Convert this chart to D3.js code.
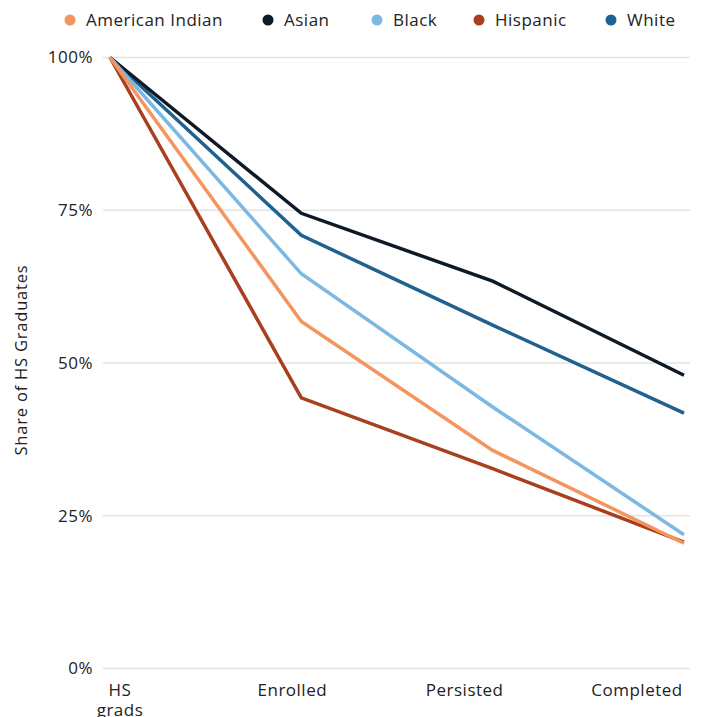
<!DOCTYPE html>
<html>
<head>
<meta charset="utf-8">
<script src="https://cdn.jsdelivr.net/npm/d3@7"></script>
<style>
  html, body { margin: 0; padding: 0; background: #fff; }
  svg { display: block; font-family: "Open Sans", "Noto Sans", sans-serif; }
</style>
</head>
<body>
<svg id="chart" width="701" height="717"></svg>
<script>
// Stages of the college pipeline
const stages = ["HS grads", "Enrolled", "Persisted", "Completed"];

// Share of high-school graduates reaching each stage (%)
const americanIndian = [100, 56.8, 35.7, 20.5];
const asian          = [100, 74.5, 63.4, 48.0];
const black          = [100, 64.6, 42.8, 21.9];
const hispanic       = [100, 44.3, 32.7, 20.7];
const white          = [100, 70.9, 56.2, 41.8];

const groups = ["American Indian", "Asian", "Black", "Hispanic", "White"];
const groupColors = ["#f4955d", "#0e1a28", "#7db8e2", "#a8401f", "#1f6190"];

const yTicks = [0, 25, 50, 75, 100];

const seriesByGroup = {
  "American Indian": americanIndian,
  "Asian": asian,
  "Black": black,
  "Hispanic": hispanic,
  "White": white
};

const svg = d3.select("#chart");
const color = d3.scaleOrdinal().domain(groups).range(groupColors);

const x = d3.scalePoint().domain(stages).range([110, 684]);
const xLabel = d3.scalePoint().domain(stages).range([120, 637]);
const y = d3.scaleLinear().domain([0, 100]).range([668.5, 57.5]);

// Gridlines
svg.append("g")
  .selectAll("line")
  .data(yTicks)
  .join("line")
  .attr("x1", 103)
  .attr("x2", 690)
  .attr("y1", d => y(d))
  .attr("y2", d => y(d))
  .attr("stroke", "#e3e3e3")
  .attr("stroke-width", 1.5);

// Y tick labels
svg.append("g")
  .selectAll("text")
  .data(yTicks)
  .join("text")
  .attr("x", 93)
  .attr("y", d => y(d))
  .attr("dy", "0.35em")
  .attr("text-anchor", "end")
  .attr("font-size", 17)
  .attr("letter-spacing", 0.5)
  .attr("fill", "#222")
  .text(d => d + "%");

// Y axis title
svg.append("text")
  .attr("transform", `translate(27, ${y(50) - 3}) rotate(-90)`)
  .attr("text-anchor", "middle")
  .attr("font-size", 16.5)
  .attr("letter-spacing", 0.8)
  .attr("fill", "#222")
  .text("Share of HS Graduates");

// X tick labels (wrapped onto lines)
const xl = svg.append("g")
  .selectAll("text")
  .data(stages)
  .join("text")
  .attr("x", d => xLabel(d))
  .attr("y", 696)
  .attr("text-anchor", "middle")
  .attr("font-size", 17)
  .attr("letter-spacing", 0.5)
  .attr("fill", "#222");
xl.each(function(d) {
  const words = d === "HS grads" ? ["HS", "grads"] : [d];
  d3.select(this).selectAll("tspan")
    .data(words)
    .join("tspan")
    .attr("x", xLabel(d))
    .attr("dy", (w, i) => i === 0 ? 0 : "1.15em")
    .text(w => w);
});

// Lines
const line = d3.line()
  .x((v, i) => x(stages[i]))
  .y(v => y(v));

const drawOrder = ["White", "Asian", "Black", "Hispanic", "American Indian"];
svg.append("g")
  .selectAll("path")
  .data(drawOrder)
  .join("path")
  .attr("d", g => line(seriesByGroup[g]))
  .attr("fill", "none")
  .attr("stroke", g => color(g))
  .attr("stroke-width", 3.5)
  .attr("stroke-linejoin", "miter");

// Legend
const legendX = [70, 268, 377, 479, 611];
const legend = svg.append("g")
  .selectAll("g")
  .data(groups)
  .join("g")
  .attr("transform", (g, i) => `translate(${legendX[i]}, 20)`);
legend.append("circle")
  .attr("r", 5.5)
  .attr("fill", g => color(g));
legend.append("text")
  .attr("x", 16)
  .attr("dy", "0.35em")
  .attr("font-size", 17)
  .attr("letter-spacing", 0.5)
  .attr("fill", "#222")
  .text(g => g);
</script>
</body>
</html>
